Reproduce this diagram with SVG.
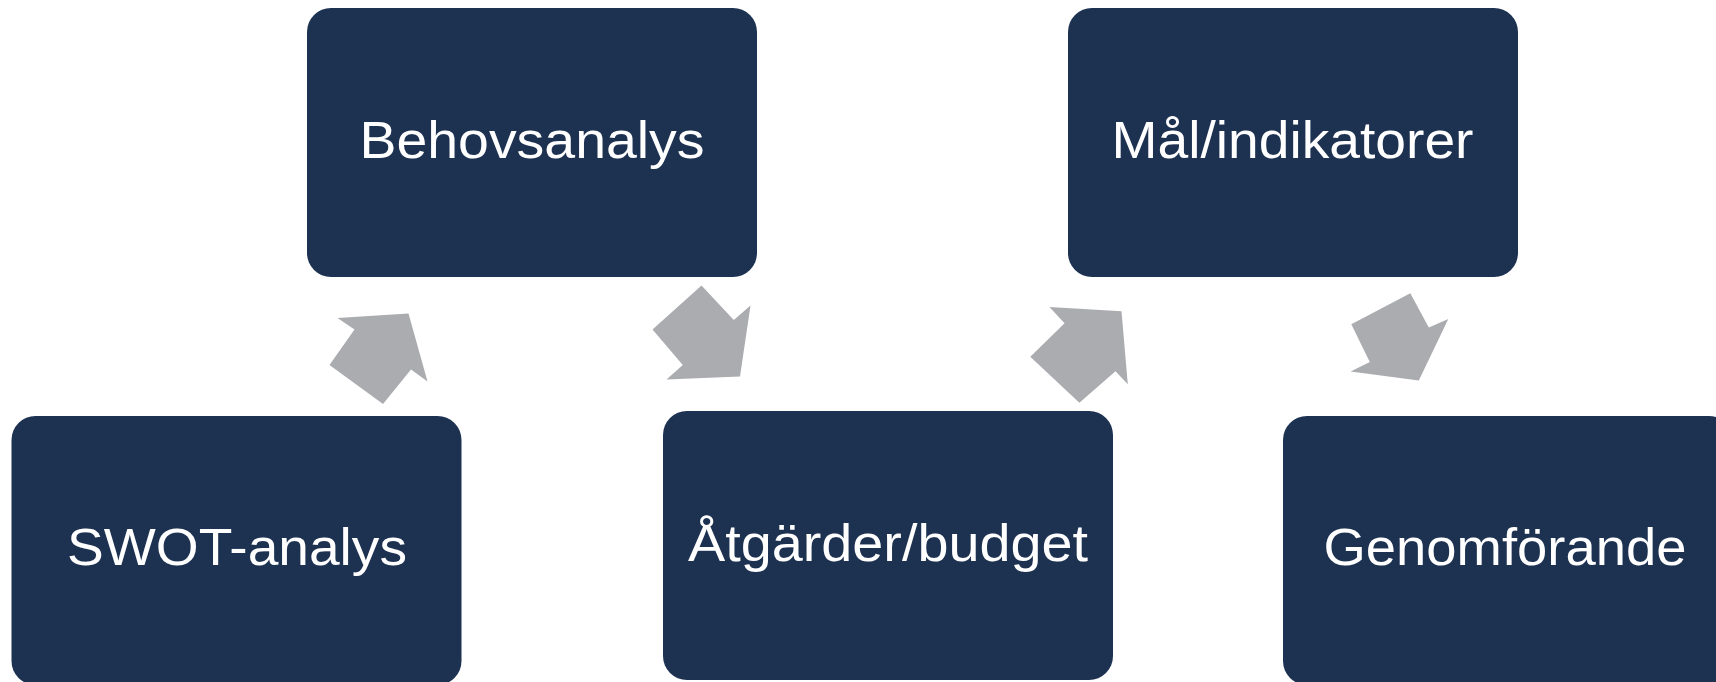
<svg xmlns="http://www.w3.org/2000/svg" width="1716" height="682" viewBox="0 0 1716 682">
<style>
.box{fill:#1D3151;}
.lbl{fill:#FFFFFF;font-family:"Liberation Sans",Arial,sans-serif;font-size:52.5px;text-anchor:middle;}
.arr{fill:#ABACB0;}
</style>
<rect width="1716" height="682" fill="#FFFFFF"/>
<g id="connectors">
<polygon class="arr" points="337.5,318 408.5,313.5 427.5,381.5 411,369.5 383,404 329.5,365 354.5,329.5"/>
<polygon class="arr" points="701.5,285.5 733.8,320 750.5,305.6 740,376.5 666.5,379.5 682.8,365 652.5,329.5"/>
<polygon class="arr" points="1049.4,307 1121.5,311.3 1127.8,384.3 1115.5,371.3 1079.4,402.8 1030.3,356.7 1064.6,323.3"/>
<polygon class="arr" points="1410.3,293.3 1428.8,327.5 1448.3,318.9 1418.8,380.5 1350.6,371.4 1369.8,362 1351.3,324.2"/>
</g>
<g id="node-swot">
<rect class="box" x="11.5" y="416" width="450" height="269" rx="24" ry="24"/>
<text class="lbl" x="237" y="565" textLength="340" lengthAdjust="spacingAndGlyphs">SWOT-analys</text>
</g>
<g id="node-behovsanalys">
<rect class="box" x="307" y="8" width="450" height="269" rx="24" ry="24"/>
<text class="lbl" x="532" y="158" textLength="345" lengthAdjust="spacingAndGlyphs">Behovsanalys</text>
</g>
<g id="node-atgarder">
<rect class="box" x="663" y="411" width="450" height="269" rx="24" ry="24"/>
<text class="lbl" x="888" y="561" textLength="400" lengthAdjust="spacingAndGlyphs">Åtgärder/budget</text>
</g>
<g id="node-mal">
<rect class="box" x="1068" y="8" width="450" height="269" rx="24" ry="24"/>
<text class="lbl" x="1292.5" y="158" textLength="362" lengthAdjust="spacingAndGlyphs">Mål/indikatorer</text>
</g>
<g id="node-genomforande">
<rect class="box" x="1283" y="416" width="450" height="269" rx="24" ry="24"/>
<text class="lbl" x="1505" y="565" textLength="363" lengthAdjust="spacingAndGlyphs">Genomförande</text>
</g>
</svg>
